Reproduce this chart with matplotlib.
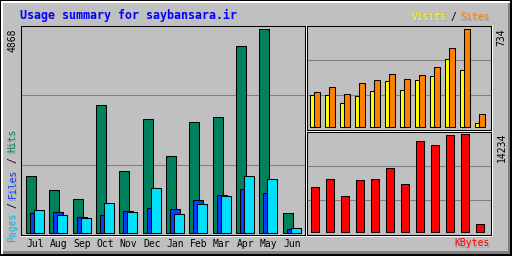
import matplotlib
matplotlib.use("Agg")
import matplotlib.pyplot as plt
import matplotlib.transforms as mtransforms
from matplotlib.patches import Rectangle
import numpy as np

# ---------------- data ----------------
months = ['Jul', 'Aug', 'Sep', 'Oct', 'Nov', 'Dec', 'Jan', 'Feb', 'Mar', 'Apr', 'May', 'Jun']
hits = [1346, 1011, 795, 3047, 1466, 2712, 1826, 2640, 2760, 4461, 4868, 460]
files = [460, 484, 364, 412, 508, 580, 556, 771, 891, 1035, 939, 77]
pages = [532, 412, 340, 700, 484, 1059, 436, 676, 867, 1347, 1275, 101]
visits = [240, 240, 180, 232, 272, 345, 277, 352, 382, 509, 427, 30]
sites = [262, 300, 247, 330, 352, 397, 360, 390, 449, 592, 734, 97]
kbytes = [6534, 7697, 5228, 7552, 7697, 9294, 6971, 13216, 12635, 14100, 14234, 1162]
title = "Usage summary for saybansara.ir"

# ---------------- style ----------------
W, H = 512, 256
BG = '#C0C0C0'
DK = '#808080'
SH = '#A8A8A8'
C_HITS = '#00805C'
C_FILES = '#0040FF'
C_PAGES = '#00E0FF'
C_VISITS = '#FFFF00'
C_SITES = '#FF8000'
C_KB = '#FF0000'
MONO = 'DejaVu Sans Mono'
LW = 0.75

fig = plt.figure(figsize=(W / 100, H / 100), dpi=100)
fig.patch.set_facecolor('black')

bg = fig.add_axes([0, 0, 1, 1])
bg.set_xlim(0, W)
bg.set_ylim(H, 0)
bg.axis('off')
bg.add_patch(Rectangle((1, 1), 509, 253, facecolor='white', edgecolor='none'))
bg.add_patch(Rectangle((3, 3), 507, 251, facecolor=DK, edgecolor='none'))
bg.add_patch(Rectangle((3, 3), 505, 248, facecolor=BG, edgecolor='none'))


def box(x0, y0, x1, y1):
    return [x0 / W, 1 - y1 / H, (x1 - x0) / W, (y1 - y0) / H]


def hl(x0, x1, y):
    bg.plot([x0, x1], [y, y], color='white', lw=LW, solid_capstyle='butt')


def vl(x, y0, y1):
    bg.plot([x, x], [y0, y1], color='white', lw=LW, solid_capstyle='butt')


def style(ax):
    ax.set_facecolor(BG)
    for s in ax.spines.values():
        s.set_color('black')
        s.set_linewidth(LW)
    ax.set_yticks([])
    lo, hi = ax.get_ylim()
    for f in (1 / 3, 2 / 3):
        ax.axhline(lo + f * (hi - lo), color=DK, lw=LW, zorder=0.5)


x = np.arange(len(months))

# ---------------- main panel ----------------
ppu = 23.36
ax = fig.add_axes(box(20.5, 25.5, 304.5, 234.5))
ax.set_xlim((20.5 - 25.3) / ppu, (304.5 - 25.3) / ppu)
ax.set_ylim(-2 * 23.96, 207 * 23.96)
style(ax)
bw = 10 / ppu
ax.bar(x + 0.5 / ppu, hits, width=bw, align='edge', color=C_HITS, edgecolor='black', lw=LW, zorder=2)
ax.bar(x + 4.5 / ppu, files, width=bw, align='edge', color=C_FILES, edgecolor='black', lw=LW, zorder=3)
ax.bar(x + 8.5 / ppu, pages, width=bw, align='edge', color=C_PAGES, edgecolor='black', lw=LW, zorder=4)
ax.set_xticks(x + 9.7 / ppu)
ax.set_xticklabels(months, fontfamily=MONO, fontsize=7, color='black')
ax.tick_params(axis='x', length=0, pad=3)
hl(20, 305, 235.5)
vl(305.5, 25, 236)

# ---------------- upper right: visits / sites ----------------
ax2 = fig.add_axes(box(306.5, 25.5, 490.5, 129.5))
ax2.set_xlim((306.5 - 309.3) / 15, (490.5 - 309.3) / 15)
ax2.set_ylim(-2.2 * 7.49, 101.8 * 7.49)
style(ax2)
ax2.bar(x + 0.5 / 15, visits, width=6.4 / 15, align='edge', color=C_VISITS, edgecolor='black', lw=LW, zorder=2)
ax2.bar(x + 4.5 / 15, sites, width=6.4 / 15, align='edge', color=C_SITES, edgecolor='black', lw=LW, zorder=3)
ax2.set_xticks([])
hl(306, 491, 130.5)
vl(491.5, 25, 131)

# ---------------- lower right: kbytes ----------------
ax3 = fig.add_axes(box(306.5, 131.5, 490.5, 234.5))
ax3.set_xlim((306.5 - 310.3) / 15, (490.5 - 310.3) / 15)
ax3.set_ylim(-2.2 * 145.2, 100.8 * 145.2)
style(ax3)
ax3.bar(x + 0.5 / 15, kbytes, width=8.4 / 15, align='edge', color=C_KB, edgecolor='black', lw=LW, zorder=2)
ax3.set_xticks([])
hl(306, 491, 235.5)
vl(491.5, 131, 236)


# ---------------- texts ----------------
def stext(xp, yp, s, color, shadow=True, **kw):
    if shadow:
        tr = mtransforms.offset_copy(bg.transData, fig=fig, x=0.72, y=-0.72, units='points')
        bg.text(xp, yp, s, color=SH, transform=tr, fontfamily=MONO, **kw)
    bg.text(xp, yp, s, color=color, fontfamily=MONO, **kw)


stext(20, 15.5, title, '#0000FF', shadow=False, fontsize=8.4, fontweight='bold', ha='left', va='center')

# right legend: Visits / Sites
stext(411.5, 17, 'Visits', C_VISITS, fontsize=7, ha='left', va='center')
stext(453.3, 17, '/', 'black', shadow=False, fontsize=7, ha='center', va='center')
stext(490, 17, 'Sites', C_SITES, fontsize=7, ha='right', va='center')

# KBytes
stext(490, 243.5, 'KBytes', C_KB, fontsize=7, ha='right', va='center')

# left vertical legend
stext(12.5, 241.5, 'Pages', '#00C8FF', fontsize=7, rotation=90, ha='center', va='bottom')
stext(12.5, 205.5, '/', 'black', shadow=False, fontsize=7, rotation=90, ha='center', va='center')
stext(12.5, 198.5, 'Files', C_FILES, fontsize=7, rotation=90, ha='center', va='bottom')
stext(12.5, 160, '/', 'black', shadow=False, fontsize=7, rotation=90, ha='center', va='center')
stext(12.5, 152.5, 'Hits', C_HITS, fontsize=7, rotation=90, ha='center', va='bottom')

# max values
bg.text(12.5, 28, str(max(hits)), color='black', fontfamily=MONO, fontsize=7,
        rotation=90, ha='center', va='top')
bg.text(501.5, 28, str(max(sites)), color='black', fontfamily=MONO, fontsize=7,
        rotation=90, ha='center', va='top')
bg.text(501.5, 133, str(max(kbytes)), color='black', fontfamily=MONO, fontsize=7,
        rotation=90, ha='center', va='top')

fig.savefig('out.png', dpi=100, facecolor=fig.get_facecolor())
